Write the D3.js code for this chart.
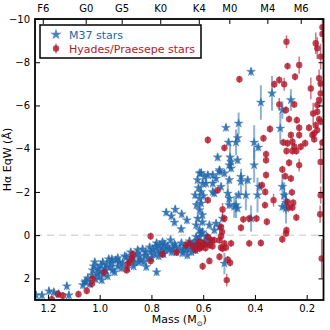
<!DOCTYPE html>
<html lang="en">
<head>
    <meta charset="UTF-8">
    <title>H-alpha EqW vs Mass</title>
    <script src="https://cdnjs.cloudflare.com/ajax/libs/d3/7.8.5/d3.min.js"></script>
    <style>
        body { margin: 0; background: #fff; }
        svg { display: block; font-family: "DejaVu Sans", sans-serif; }
    </style>
</head>
<body>
<svg id="chart" width="330" height="330"></svg>

<script>
    // [mass, EqW, error] - error omitted means a small default bar
    const m37Stars = [
        [1.246,2.78],[1.223,2.78],[1.196,2.59],[1.177,2.64],[1.158,2.73],[1.127,2.36],[1.119,2.78],[1.065,2.31],[1.057,2.18],
        [1.054,2.13],[1.046,1.99],[1.038,2.27],[1.030,1.85],[1.027,1.62],[1.023,1.44],[1.019,1.25],[1.015,2.04],[1.011,1.76],
        [1.007,1.53],[1.003,1.90],[1.000,1.67],[0.996,1.39],[0.992,2.08],[0.988,1.25],[0.984,1.81],[0.980,1.53],[0.977,1.62],
        [0.973,1.34],[0.969,1.90],[0.965,1.11],[0.961,1.48],[0.953,1.11],[0.953,1.30],[0.950,1.62],[0.942,1.71],[0.938,1.16],
        [0.930,1.44],[0.923,1.25],[0.930,1.06],[0.915,1.53],
        [0.911,1.30],[0.903,0.97],[0.896,1.02],[0.892,1.53],[0.884,1.16],[0.880,0.79],[0.872,1.06],[0.865,1.25],[0.857,0.88],
        [0.853,0.69],[0.846,0.97],[0.842,1.16],[0.834,0.65],[0.826,0.93],[0.822,0.79],[0.815,1.06],[0.807,0.56],[0.803,0.79],
        [0.795,0.65],[0.788,0.88],[0.784,0.51],[0.776,0.69],[0.768,0.46],[0.765,0.79],[0.757,0.60],[0.749,0.42],[0.745,0.69],
        [0.738,0.51],[0.730,0.65],[0.820,1.47],[0.780,1.71],[0.869,1.44],[0.850,1.25],[0.830,1.25],[0.799,1.06],[0.772,0.97],
        [0.753,0.88],
        [0.726,0.23],[0.718,0.60],[0.711,0.42],[0.703,0.79],[0.691,0.60],[0.684,0.37],[0.676,0.69],[0.668,0.51],[0.661,0.93],
        [0.653,0.28],[0.649,0.60],[0.641,0.42],[0.634,0.37],[0.630,0.69],[0.622,0.23],[0.614,0.09],[0.611,0.51],[0.603,-0.14],
        [0.595,0.28],[0.587,0.05],[0.757,0.32],[0.780,0.37],[0.722,0.79],[0.707,0.51],[0.680,0.83],[0.664,0.65],[0.645,0.79],
        [0.584,0.37],[0.572,0.23],
        [0.743,-1.05],[0.708,-1.19],[0.683,-0.97],[0.663,-0.69],[0.711,-0.59],[0.685,-0.28],[0.723,-0.88],[0.631,-1.85],
        [0.614,-2.86],[0.595,-2.70],[0.589,-2.39],[0.608,-2.00],[0.614,-1.70],[0.608,-1.47],[0.614,-1.16],[0.621,-0.77],
        [0.627,-0.46],[0.614,-0.23],[0.608,-0.08],[0.627,0.08],[0.626,-1.39],[0.603,-0.93],[0.618,-2.18],[0.599,-1.81],
        [0.622,-2.55],[0.603,-0.60],
        [0.563,-2.78],[0.550,-2.62],[0.537,-2.93],[0.518,-2.86],[0.499,-3.24],[0.492,-3.39],[0.531,-2.24],[0.557,-1.93],
        [0.505,-1.93,0.6],[0.499,-1.70],[0.480,-1.31,0.5],[0.463,-1.85],[0.525,-0.77],[0.537,-0.38],[0.576,-0.46],[0.550,-0.54],
        [0.557,-0.23],[0.518,1.31,0.5],
        [0.544,-3.60],[0.496,-3.60,0.6],[0.467,-3.47],[0.537,-3.01],[0.492,-3.09],[0.499,-2.55],[0.454,-2.70],[0.454,-2.47,0.6],
        [0.428,-2.55],[0.403,-3.24,0.8],[0.473,-1.39,0.6],[0.499,-1.39],[0.467,-1.24],[0.435,-1.85,0.7],[0.390,-1.85,0.8],
        [0.415,-0.77,0.6],[0.294,-2.24,0.6],[0.294,-1.31],[0.280,-1.24,0.7],[0.608,-2.88],[0.582,-2.78],[0.602,-2.39],
        [0.563,-2.39],[0.563,-2.00],
        [0.415,-7.56],[0.512,-4.97],[0.463,-5.17,0.5],[0.502,-4.29],[0.473,-4.29,0.6],[0.467,-4.50],[0.403,-4.29,0.8],
        [0.387,-4.06],[0.377,-6.14,0.8],[0.334,-6.56,0.8],[0.294,-5.79,0.4],[0.261,-6.25,0.5],[0.302,-4.94,0.7],[0.383,-2.24],
        [0.287,-1.85,0.6],[0.280,-1.50,0.5]
    ];

    const hyadesStars = [
        [1.185,2.96],[1.161,2.73],[1.142,2.80],[1.082,2.73],[1.050,2.57],[1.030,2.25],[1.027,2.01],[0.984,1.71],[0.896,1.62],
        [0.892,1.34],[0.884,1.25],[0.876,1.06],[0.872,0.88],[0.803,0.05],[0.803,1.20],[0.757,0.88],[0.703,0.79],[0.666,0.46],
        [0.653,0.38],[0.621,0.46],[0.614,0.62],[0.602,0.36],[0.630,0.69],[0.595,0.42],[0.582,0.08],[0.576,0.46],[0.568,0.23],
        [0.557,0.23],[0.537,0.23],[0.531,0.05],[0.527,-0.15],[0.531,-0.38],[0.518,-0.77],[0.525,-1.19,0.3],[0.544,-2.08],
        [0.582,-1.62],[0.518,0.38],[0.512,0.57],[0.525,0.62],[0.492,0.38],[0.576,1.19],[0.602,1.44],[0.537,1.00],[0.505,1.13],
        [0.509,2.08,0.3],[0.618,0.32],[0.607,0.56],[0.591,0.60],[0.564,0.51],[0.638,0.51],
        [0.357,-3.75],[0.357,-3.47],[0.278,-3.89],[0.255,-3.89],[0.240,-3.89],[0.268,-3.35],[0.229,-3.24,0.3],[0.294,-3.04],
        [0.283,-2.73],[0.261,-2.62],[0.357,-2.78],[0.373,-2.31],[0.360,-2.00],[0.257,-1.98],[0.328,-1.62,0.3],[0.274,-1.54],
        [0.252,-1.50],[0.268,-1.28],[0.255,-1.28],[0.361,-1.39],[0.240,-0.82],[0.445,-0.73],[0.422,-0.77],[0.394,-0.77],
        [0.354,-0.62],[0.454,-0.34],[0.278,-0.23],[0.280,-0.08],[0.294,0.19],[0.422,0.38],[0.377,0.36],[0.531,0.57],[0.496,1.28],
        [0.146,-3.39,1.0],[0.146,-1.85,0.4],[0.148,-0.97,0.4],[0.142,1.08,0.9],
        [0.278,-8.95,0.3],[0.460,-7.21],[0.274,-7.82],[0.229,-7.87,0.4],[0.245,-7.33],[0.306,-7.18],[0.325,-6.98],
        [0.287,-6.98,0.3],[0.342,-4.91],[0.582,-4.40],[0.518,-4.04],[0.306,-6.05,0.3],[0.280,-5.79],[0.248,-6.05],[0.268,-5.37],
        [0.238,-5.32],[0.261,-4.63],[0.229,-4.97],[0.229,-4.63],[0.191,-4.97],[0.206,-4.25],[0.274,-4.25],[0.255,-4.32],
        [0.248,-4.09],[0.223,-4.09],[0.178,-4.63],[0.184,-6.79,0.5],[0.175,-5.63,0.5],[0.159,-6.02],[0.165,-8.88,0.5],
        [0.159,-8.65,0.5],[0.146,-8.26,0.6],[0.152,-7.26,0.4],[0.146,-7.02],[0.146,-6.56,0.5],[0.152,-6.25],[0.159,-5.71],
        [0.152,-5.37],[0.146,-5.25],[0.165,-5.09],[0.159,-4.86],[0.171,-4.71],[0.139,-9.62,0.4],[0.139,-9.31,0.4],
        [0.367,-4.48],[0.290,-4.29],[0.171,-4.44],[0.139,-4.29]
    ];

    const massTicks = [1.2, 1.0, 0.8, 0.6, 0.4, 0.2];
    const eqwTicks = [-10, -8, -6, -4, -2, 0, 2];
    const spTypes = ["F6", "G0", "G5", "K0", "K4", "M0", "M4", "M6"];
    const spMasses = [1.22, 1.054, 0.915, 0.766, 0.617, 0.499, 0.352, 0.223];

    const blue = "#2166ac";
    const red = "#b2182b";

    const margin = {top: 19, right: 6.5, bottom: 30, left: 35};
    const width = 330 - margin.left - margin.right;
    const height = 330 - margin.top - margin.bottom;

    const svg = d3.select("#chart");
    const g = svg.append("g").attr("transform", `translate(${margin.left},${margin.top})`);

    const x = d3.scaleLinear().domain([1.25, 0.135]).range([0, width]);
    const y = d3.scaleLinear().domain([-10, 3]).range([0, height]);

    g.append("clipPath").attr("id", "plotClip")
        .append("rect").attr("width", width).attr("height", height);

    const plot = g.append("g").attr("clip-path", "url(#plotClip)");

    // zero line
    plot.append("line")
        .attr("x1", 0).attr("x2", width)
        .attr("y1", y(0)).attr("y2", y(0))
        .attr("stroke", "#d9d9d9")
        .attr("stroke-width", 1.5)
        .attr("stroke-dasharray", "7,5");

    function drawSeries(data, color, defaultErr, barOpacity, barWidth) {
        const s = plot.append("g");
        s.selectAll("line")
            .data(data)
            .enter()
            .append("line")
            .attr("x1", d => x(d[0])).attr("x2", d => x(d[0]))
            .attr("y1", d => y(d[1] - (d[2] || defaultErr)))
            .attr("y2", d => y(d[1] + (d[2] || defaultErr)))
            .attr("stroke", color)
            .attr("stroke-opacity", barOpacity)
            .attr("stroke-width", barWidth);
        return s;
    }

    const starSymbol = d3.symbol(d3.symbolStar, 26);
    drawSeries(m37Stars, blue, 0.18, 0.5, 2)
        .selectAll("path")
        .data(m37Stars)
        .enter()
        .append("path")
        .attr("d", starSymbol)
        .attr("transform", d => `translate(${x(d[0])},${y(d[1])})`)
        .attr("fill", blue)
        .attr("fill-opacity", 0.8)
        .attr("stroke", blue)
        .attr("stroke-opacity", 0.5)
        .attr("stroke-width", 0.5);

    drawSeries(hyadesStars, red, 0.17, 0.6, 1.5)
        .selectAll("circle")
        .data(hyadesStars)
        .enter()
        .append("circle")
        .attr("cx", d => x(d[0]))
        .attr("cy", d => y(d[1]))
        .attr("r", 3.2)
        .attr("fill", red)
        .attr("fill-opacity", 0.8);

    // axes, ticks pointing in
    g.append("g")
        .attr("transform", `translate(0,${height})`)
        .call(d3.axisBottom(x).tickValues(massTicks).tickFormat(d3.format(".1f"))
            .tickSizeInner(-5).tickSizeOuter(0).tickPadding(5));

    g.append("g")
        .call(d3.axisLeft(y).tickValues(eqwTicks)
            .tickSizeInner(-5).tickSizeOuter(0).tickPadding(5));

    g.append("g")
        .attr("transform", `translate(${width},0)`)
        .call(d3.axisRight(y).tickValues(eqwTicks).tickFormat("")
            .tickSizeInner(-5).tickSizeOuter(0));

    g.append("g")
        .call(d3.axisTop(x).tickValues(spMasses).tickFormat((d, i) => spTypes[i])
            .tickSizeInner(-5).tickSizeOuter(0).tickPadding(7));

    g.selectAll(".domain").remove();
    g.selectAll(".tick text").attr("font-size", 10).attr("font-family", "DejaVu Sans").attr("fill", "#000");
    g.selectAll(".tick line").attr("stroke", "#000").attr("stroke-width", 1);

    g.append("rect")
        .attr("width", width).attr("height", height)
        .attr("fill", "none")
        .attr("stroke", "#000")
        .attr("stroke-width", 1.8);

    // axis labels
    const xLabel = svg.append("text")
        .attr("x", margin.left + width / 2)
        .attr("y", 323)
        .attr("text-anchor", "middle")
        .attr("font-size", 11);
    xLabel.append("tspan").text("Mass (M");
    xLabel.append("tspan").attr("font-size", 7).attr("dy", 3).text("⊙");
    xLabel.append("tspan").attr("dy", -3).text(")");

    svg.append("text")
        .attr("transform", `translate(10.5,${margin.top + height / 2}) rotate(-90)`)
        .attr("text-anchor", "middle")
        .attr("font-size", 11)
        .text("Hα EqW (Å)");

    // legend
    const legend = svg.append("g");
    legend.append("rect")
        .attr("x", 40).attr("y", 25)
        .attr("width", 161).attr("height", 33)
        .attr("fill", "#fff")
        .attr("stroke", "#000")
        .attr("stroke-width", 1.5);

    legend.append("path")
        .attr("d", d3.symbol(d3.symbolStar, 40))
        .attr("transform", "translate(56,34.5)")
        .attr("fill", blue).attr("fill-opacity", 0.8);
    legend.append("line")
        .attr("x1", 56).attr("x2", 56).attr("y1", 43.5).attr("y2", 53.5)
        .attr("stroke", red).attr("stroke-opacity", 0.6).attr("stroke-width", 1.5);
    legend.append("circle")
        .attr("cx", 56).attr("cy", 48.5).attr("r", 3.2)
        .attr("fill", red).attr("fill-opacity", 0.8);

    legend.append("text")
        .attr("x", 69).attr("y", 38.5)
        .attr("font-size", 11).attr("fill", blue)
        .text("M37 stars");
    legend.append("text")
        .attr("x", 69).attr("y", 52.5)
        .attr("font-size", 11).attr("fill", red)
        .text("Hyades/Praesepe stars");
</script>
</body>
</html>
